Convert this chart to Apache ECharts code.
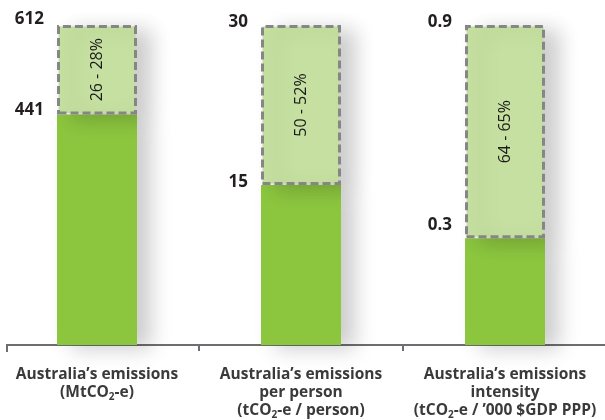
<!DOCTYPE html>
<html>
<head>
<meta charset="utf-8">
<title>Australia's emissions reductions</title>
<script src="https://cdn.jsdelivr.net/npm/echarts@6.0.0/dist/echarts.min.js"></script>
<style>
  html, body { margin: 0; padding: 0; background: #ffffff; }
  #chart { width: 605px; height: 420px; }
</style>
</head>
<body>
<div id="chart"></div>
<script>
// Category captions, one array of lines per panel; "_2" marks a subscript 2.
const captions = [
  ['Australia\u2019s emissions', '(MtCO_2-e)'],
  ['Australia\u2019s emissions', 'per person', '(tCO_2-e / person)'],
  ['Australia\u2019s emissions', 'intensity', '(tCO_2-e / \u2019000 $GDP PPP)']
];
// Current level of each measure (solid green bar)
const currentValues = [441, 15, 0.3];
// Full height of each panel's bar (top of the dashed box)
const totalValues = [612, 30, 0.9];
// Reduction range written inside the dashed box
const reductionLabels = ['26 - 28%', '50 - 52%', '64 - 65%'];
// Values printed beside each bar
const tickValues = [[441, 612], [15, 30], [0.3, 0.9]];

const FONT = '"Open Sans", "Noto Sans", sans-serif';
const GREEN = '#8cc63f';
const LIGHT = '#c5e0a0';
const AXIS_GREY = '#6d6e71';

// How far each value label sits above its level (bottom padding, px)
const labelLift = [[8, 12], [6, 6], [26, 6]];

function captionRich(lines) {
  return lines.map(function (line) {
    return line.split('_2').map(function (part) {
      return part ? '{t|' + part + '}' : '';
    }).join('{s|2}');
  }).join('\n');
}

const panelWidth = 204;
const panelStart = -5;

const grids = [], xAxes = [], yAxes = [], series = [];
captions.forEach(function (lines, i) {
  grids.push({
    left: panelStart + panelWidth * i,
    width: panelWidth,
    top: 25,
    bottom: 75,
    containLabel: false,
    outerBoundsMode: 'none'
  });
  xAxes.push({
    type: 'category',
    gridIndex: i,
    data: [captionRich(lines)],
    axisLine: { show: true, lineStyle: { color: AXIS_GREY, width: 2 } },
    axisTick: { show: true, length: 6, lineStyle: { color: AXIS_GREY, width: 2 } },
    axisLabel: {
      margin: 21,
      interval: 0,
      rich: {
        t: { fontFamily: FONT, fontSize: 15.5, fontWeight: 'bold', color: '#3a3a3a', lineHeight: 18 },
        s: { fontFamily: FONT, fontSize: 10, fontWeight: 'bold', color: '#3a3a3a', lineHeight: 9, verticalAlign: 'bottom' }
      }
    }
  });
  const valueRich = {};
  tickValues[i].forEach(function (v, k) {
    valueRich['v' + k] = {
      fontFamily: FONT,
      fontSize: 17,
      fontWeight: 'bold',
      color: '#231f20',
      padding: [0, 0, labelLift[i][k], 0]
    };
  });
  yAxes.push({
    type: 'value',
    gridIndex: i,
    min: 0,
    max: totalValues[i],
    offset: -62,
    axisLine: { show: false },
    axisTick: { show: false },
    splitLine: { show: false },
    axisLabel: {
      customValues: tickValues[i],
      margin: 13,
      verticalAlign: 'middle',
      formatter: function (value) {
        const k = tickValues[i].indexOf(value);
        return '{v' + (k < 0 ? 0 : k) + '|' + value + '}';
      },
      rich: valueRich
    }
  });
  const shadow = {
    shadowColor: 'rgba(0, 0, 0, 0.2)',
    shadowBlur: 20,
    shadowOffsetX: 14,
    shadowOffsetY: 4
  };
  series.push({
    type: 'bar',
    xAxisIndex: i,
    yAxisIndex: i,
    stack: 'level' + i,
    barWidth: 80,
    silent: true,
    data: [currentValues[i]],
    itemStyle: Object.assign({ color: GREEN }, shadow)
  });
  series.push({
    type: 'bar',
    xAxisIndex: i,
    yAxisIndex: i,
    stack: 'level' + i,
    barWidth: 80,
    silent: true,
    data: [totalValues[i] - currentValues[i]],
    itemStyle: Object.assign({
      color: LIGHT,
      borderColor: '#868686',
      borderWidth: 3,
      borderType: [8, 4]
    }, shadow),
    label: {
      show: true,
      position: 'inside',
      rotate: 90,
      formatter: reductionLabels[i],
      fontFamily: FONT,
      fontSize: 16,
      color: '#1a1a1a'
    }
  });
});

const chart = echarts.init(document.getElementById('chart'), null, { renderer: 'canvas' });
chart.setOption({
  animation: false,
  backgroundColor: '#ffffff',
  grid: grids,
  xAxis: xAxes,
  yAxis: yAxes,
  series: series,
  // The baseline starts a few pixels in, closed by a short end tick
  graphic: [
    { type: 'rect', z: 100, shape: { x: 0, y: 342, width: 6, height: 6 }, style: { fill: '#ffffff' } },
    { type: 'line', z: 100, shape: { x1: 7, y1: 344, x2: 7, y2: 352 }, style: { stroke: AXIS_GREY, lineWidth: 2 } }
  ]
});
</script>
</body>
</html>
